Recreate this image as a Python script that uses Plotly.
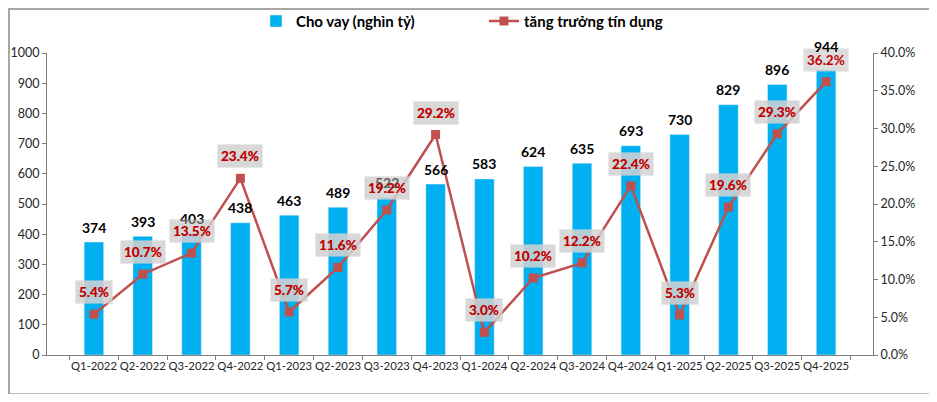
import plotly.graph_objects as go

# data
quarters = ['Q1-2022', 'Q2-2022', 'Q3-2022', 'Q4-2022',
            'Q1-2023', 'Q2-2023', 'Q3-2023', 'Q4-2023',
            'Q1-2024', 'Q2-2024', 'Q3-2024', 'Q4-2024',
            'Q1-2025', 'Q2-2025', 'Q3-2025', 'Q4-2025']
loans = [374, 393, 403, 438, 463, 489, 522, 566,
         583, 624, 635, 693, 730, 829, 896, 944]
growth = [5.4, 10.7, 13.5, 23.4, 5.7, 11.6, 19.2, 29.2,
          3.0, 10.2, 12.2, 22.4, 5.3, 19.6, 29.3, 36.2]

FONT = "Lato"
BAR_COLOR = "#00B0F0"
LINE_COLOR = "#C0504D"

fig = go.Figure()

fig.add_trace(go.Bar(
    x=quarters, y=loans,
    name="Cho vay (nghìn tỷ)",
    marker_color=BAR_COLOR,
    width=0.4,
))

fig.add_trace(go.Scatter(
    x=quarters, y=growth,
    name="tăng trưởng tín dụng",
    yaxis="y2",
    mode="lines+markers",
    line=dict(color=LINE_COLOR, width=2.5),
    marker=dict(symbol="square", size=9, color=LINE_COLOR),
))

# percentage labels with grey boxes
for q, g in zip(quarters, growth):
    fig.add_annotation(
        x=q, y=g, xref="x", yref="y2",
        text=f"{g:.1f}%", showarrow=False, yshift=22,
        font=dict(family=FONT, size=13.5, color="#C00000", weight="bold"),
        bgcolor="rgba(210,210,210,0.75)", borderpad=3,
    )

# bar value labels; the last one sits higher, above the % box
for i, (q, v) in enumerate(zip(quarters, loans)):
    last = i == len(loans) - 1
    fig.add_annotation(
        x=q, y=v, xref="x", yref="y",
        text=str(v), showarrow=False, yshift=23 if last else 15,
        font=dict(family=FONT, size=14, color="black", weight="bold"),
    )

# grey boxes drawn again for the middle points so they cover bar labels as in the original
for q, g in zip(quarters[:-1], growth[:-1]):
    fig.add_annotation(
        x=q, y=g, xref="x", yref="y2",
        text=f"{g:.1f}%", showarrow=False, yshift=22,
        font=dict(family=FONT, size=13.5, color="#C00000", weight="bold"),
        bgcolor="rgba(210,210,210,0.45)", borderpad=3,
    )

# outer chart border
fig.add_shape(type="rect", xref="paper", yref="paper",
              x0=-0.046, x1=1.07, y0=-0.13, y1=1.146,
              line=dict(color="#A6A6A6", width=2), layer="below")

axis_common = dict(showline=True, linecolor="#808080", linewidth=1,
                   ticks="outside", tickcolor="#808080", ticklen=4,
                   showgrid=False, zeroline=False, automargin=False,
                   tickfont=dict(family=FONT, size=12.5, color="#262626"))

fig.update_layout(
    width=921, height=386,
    margin=dict(l=39, r=56, t=45, b=39, autoexpand=False),
    paper_bgcolor="white", plot_bgcolor="white",
    showlegend=True,
    legend=dict(orientation="h", x=0.253, xanchor="left", y=1.105, yanchor="middle",
                bgcolor="rgba(0,0,0,0)",
                font=dict(family=FONT, size=15, color="black", weight="bold"),
                itemwidth=30, entrywidth=183),
    bargap=0.6,
    xaxis=dict(**{**axis_common, "tickfont": dict(family=FONT, size=11.3, color="#262626")},
               tickson="boundaries", tickangle=0),
    yaxis=dict(**axis_common, range=[0, 1000], dtick=100),
    yaxis2=dict(**axis_common, overlaying="y", side="right",
                range=[0, 40], dtick=5, ticksuffix="%", tickformat=".1f"),
)

fig.write_html("out.html")
